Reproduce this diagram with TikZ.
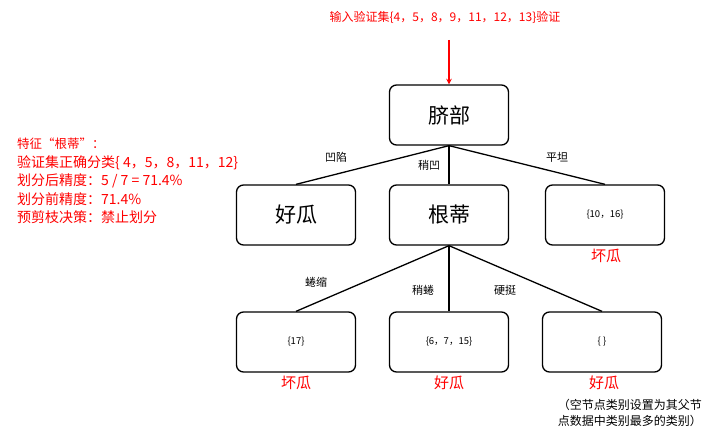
\documentclass[tikz,border=0pt]{standalone}
\usepackage{fontspec}
\setmainfont{Noto Sans CJK SC}
\begin{document}
\begin{tikzpicture}[x=1pt,y=-1pt,
  box/.style={draw,line width=1.3pt,rounded corners=7pt,minimum width=119pt,minimum height=60pt,inner sep=0pt},
  big/.style={font=\fontsize{21}{22}\selectfont},
  small/.style={font=\fontsize{9.5}{10}\selectfont},
  lbl/.style={font=\fontsize{11}{12}\selectfont},
  res/.style={text=red,font=\fontsize{15}{16}\selectfont},
  edge/.style={line width=1.3pt}]
\useasboundingbox (0,0) rectangle (711,441);
\node[box,big] (root) at (449,115) {脐部};
\node[box,big] (good) at (296,215) {好瓜};
\node[box,big] (gd) at (449,215) {根蒂};
\node[box,small] (flat) at (605,215) {\{10，16\}};
\node[box,small] (b1) at (296,342) {\{17\}};
\node[box,small] (b2) at (449,342) {\{6，7，15\}};
\node[box,small] (b3) at (602,342) {\{ \}};
\draw[edge] (root.south) -- (good.north);
\draw[edge] (root.south) -- (gd.north);
\draw[edge] (root.south) -- (flat.north);
\draw[edge] (gd.south) -- (b1.north);
\draw[edge] (gd.south) -- (b2.north);
\draw[edge] (gd.south) -- (b3.north);
\node[lbl] (l1) at (336,157) {凹陷};
\node[lbl] (l2) at (429,165) {稍凹};
\node[lbl] (l3) at (557,157) {平坦};
\node[lbl] (l4) at (316,282) {蜷缩};
\node[lbl] (l5) at (423,290) {稍蜷};
\node[lbl] (l6) at (505,290) {硬挺};
\node[res] (r1) at (606,256) {坏瓜};
\node[res] (r2) at (296,383) {坏瓜};
\node[res] (r3) at (449,383) {好瓜};
\node[res] (r4) at (604,383) {好瓜};
\node[text=red,font=\fontsize{12}{13}\selectfont] (in) at (445,17) {输入验证集\{4，5，8，9，11，12，13\}验证};
\coordinate (s) at (449,40);
\draw[red,line width=1.5pt,-stealth] (s) -- (root.north);
\node[text=red,anchor=north west,align=left,inner sep=0pt,font=\fontsize{14}{18.5}\selectfont] (note) at (17,138)
{{\fontsize{12.5}{13}\selectfont 特征“根蒂”：}\\验证集正确分类\{ 4，5，8，11，12\}\\划分后精度：5 / 7 = 71.4\%\\划分前精度：71.4\%\\预剪枝决策：禁止划分};
\node[anchor=north east,align=right,inner sep=0pt,font=\fontsize{12}{16}\selectfont] (cm) at (702,399) {（空节点类别设置为其父节\\点数据中类别最多的类别）};
\end{tikzpicture}
\end{document}
